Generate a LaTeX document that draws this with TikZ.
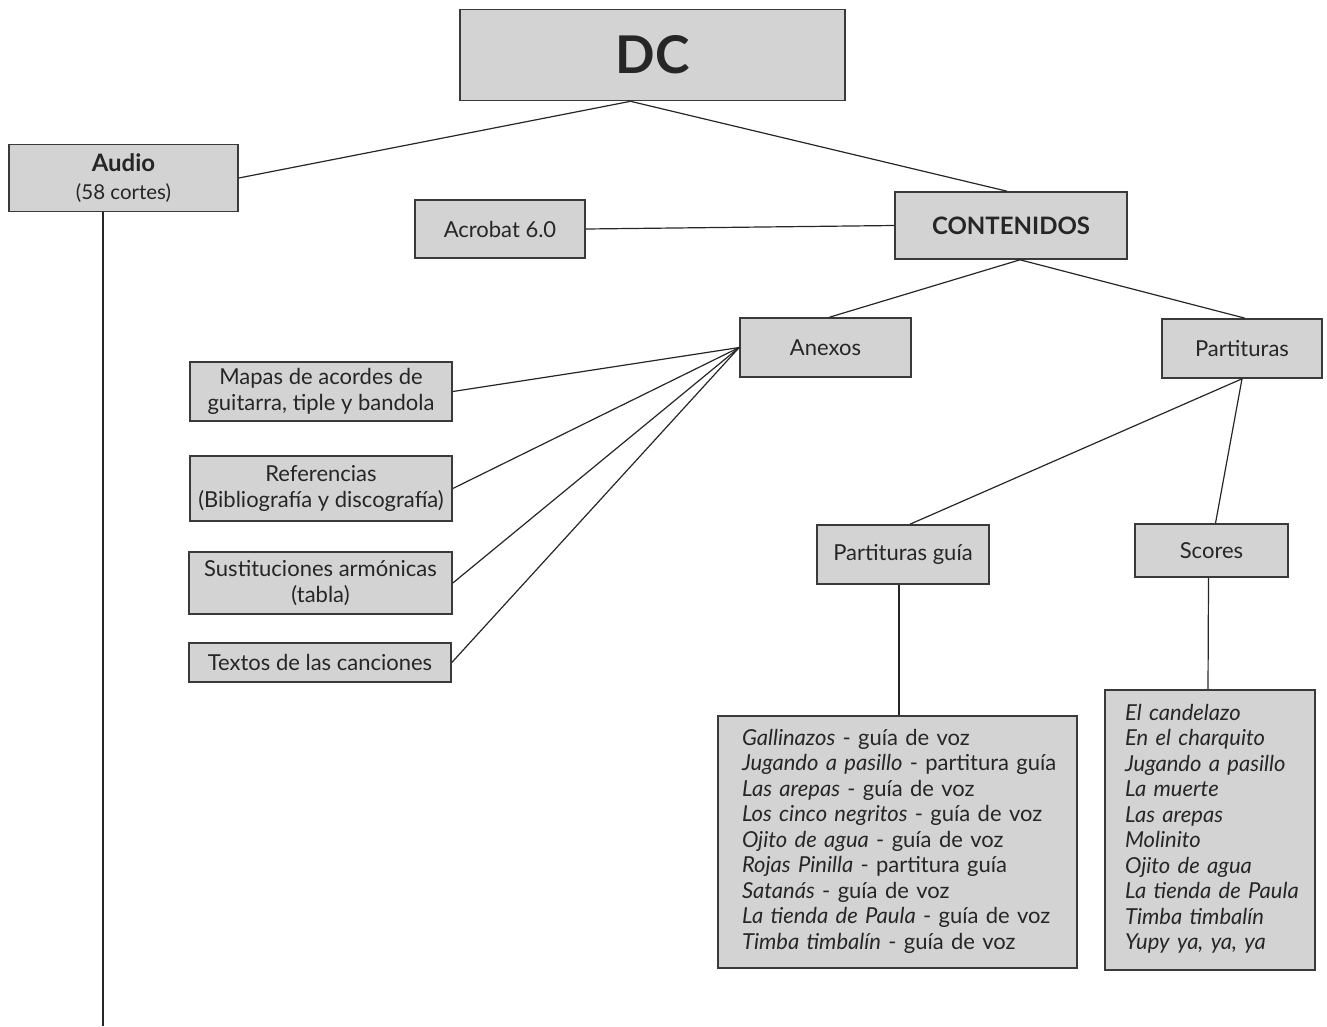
\documentclass[tikz,border=0pt]{standalone}
\usepackage{fontspec}
\setmainfont{Lato}
\usetikzlibrary{calc}
\definecolor{boxfill}{HTML}{D3D3D3}
\definecolor{boxline}{HTML}{3A3A3A}
\tikzset{
  box/.style={draw=boxline, line width=1.6pt, fill=boxfill, inner sep=0pt,
    align=center, font=\fontsize{22}{26}\selectfont, text=black!85},
  listbox/.style={box, align=left, font=\fontsize{22}{25.5}\selectfont},
  link/.style={draw=black!85, line width=1.2pt}
}
\begin{document}
\begin{tikzpicture}[x=1pt,y=-1pt]
\useasboundingbox (0,0) rectangle (1327,1026);

% top level
\node[box, minimum width=385, minimum height=91, font=\fontsize{52}{56}\selectfont\bfseries] (dc) at (652.5,55) {DC};
\node[box, minimum width=229, minimum height=67] (audio) at (123.5,178)
  {{\fontsize{24}{26}\selectfont\bfseries Audio}\\[2pt]{\fontsize{20.5}{22}\selectfont (58 cortes)}};
\node[box, minimum width=170, minimum height=58] (acro) at (500,229) {Acrobat 6.0};
\node[box, minimum width=232, minimum height=67, font=\fontsize{24}{26}\selectfont\bfseries] (cont) at (1011,225.5) {CONTENIDOS};

% second level
\node[box, minimum width=171, minimum height=59] (anexos) at (825.5,347.5) {Anexos};
\node[box, minimum width=160, minimum height=59] (part) at (1242,348.5) {Partituras};

% annexes
\node[box, minimum width=262, minimum height=59] (mapas) at (321,391.5) {Mapas de acordes de\\guitarra, tiple y bandola};
\node[box, minimum width=262, minimum height=65] (refs) at (321,488.5) {Referencias\\(Bibliografía y discografía)};
\node[box, minimum width=263, minimum height=62] (sust) at (320.5,583) {Sustituciones armónicas\\(tabla)};
\node[box, minimum width=262, minimum height=39] (textos) at (320,662.5) {Textos de las canciones};

% scores
\node[box, minimum width=172, minimum height=59] (guia) at (903,554.5) {Partituras guía};
\node[box, minimum width=153, minimum height=53] (scores) at (1211.5,550.5) {Scores};

\node[listbox, minimum width=359, minimum height=252, text width=311] (guialist) at (897.5,842)
  {\begin{tabular}{@{}l@{}}
   \textit{Gallinazos} - guía de voz\\
   \textit{Jugando a pasillo} - partitura guía\\
   \textit{Las arepas} - guía de voz\\
   \textit{Los cinco negritos} - guía de voz\\
   \textit{Ojito de agua} - guía de voz\\
   \textit{Rojas Pinilla} - partitura guía\\
   \textit{Satanás} - guía de voz\\
   \textit{La tienda de Paula} - guía de voz\\
   \textit{Timba timbalín} - guía de voz
   \end{tabular}};
\node[listbox, minimum width=210, minimum height=280, text width=170] (scorelist) at (1210,830)
  {\begin{tabular}{@{}l@{}}
   \itshape El candelazo\\
   \itshape En el charquito\\
   \itshape Jugando a pasillo\\
   \itshape La muerte\\
   \itshape Las arepas\\
   \itshape Molinito\\
   \itshape Ojito de agua\\
   \itshape La tienda de Paula\\
   \itshape Timba timbalín\\
   \itshape Yupy ya, ya, ya
   \end{tabular}};

\coordinate (audioend) at (103,1026);

% connectors
\coordinate (dcfoot) at ($(dc.south)+(-22,0)$);
\draw[link] (dcfoot) -- (audio.east);
\draw[link] (dcfoot) -- ($(cont.north)+(-4,0)$);
\draw[link] (acro.east) -- (cont.west);
\draw[link] ($(cont.south)+(9,0)$) -- ($(anexos.north)+(4,0)$);
\draw[link] ($(cont.south)+(9,0)$) -- ($(part.north)+(3,0)$);
\draw[link] (anexos.west) -- (mapas.east);
\draw[link] (anexos.west) -- (refs.east);
\draw[link] (anexos.west) -- (sust.east);
\draw[link] (anexos.west) -- (textos.east);
\draw[link] (part.south) -- ($(guia.north)+(7,0)$);
\draw[link] (part.south) -- ($(scores.north)+(4,0)$);
\draw[link] ($(guia.south)+(-4,0)$) -- ($(guialist.north)+(1.5,0)$);
\draw[link] ($(scores.south)+(-3,0)$) -- ($(scorelist.north)+(-2,0)$);
\draw[link] ($(audio.south)+(-20.5,0)$) -- (audioend);
\end{tikzpicture}
\end{document}
